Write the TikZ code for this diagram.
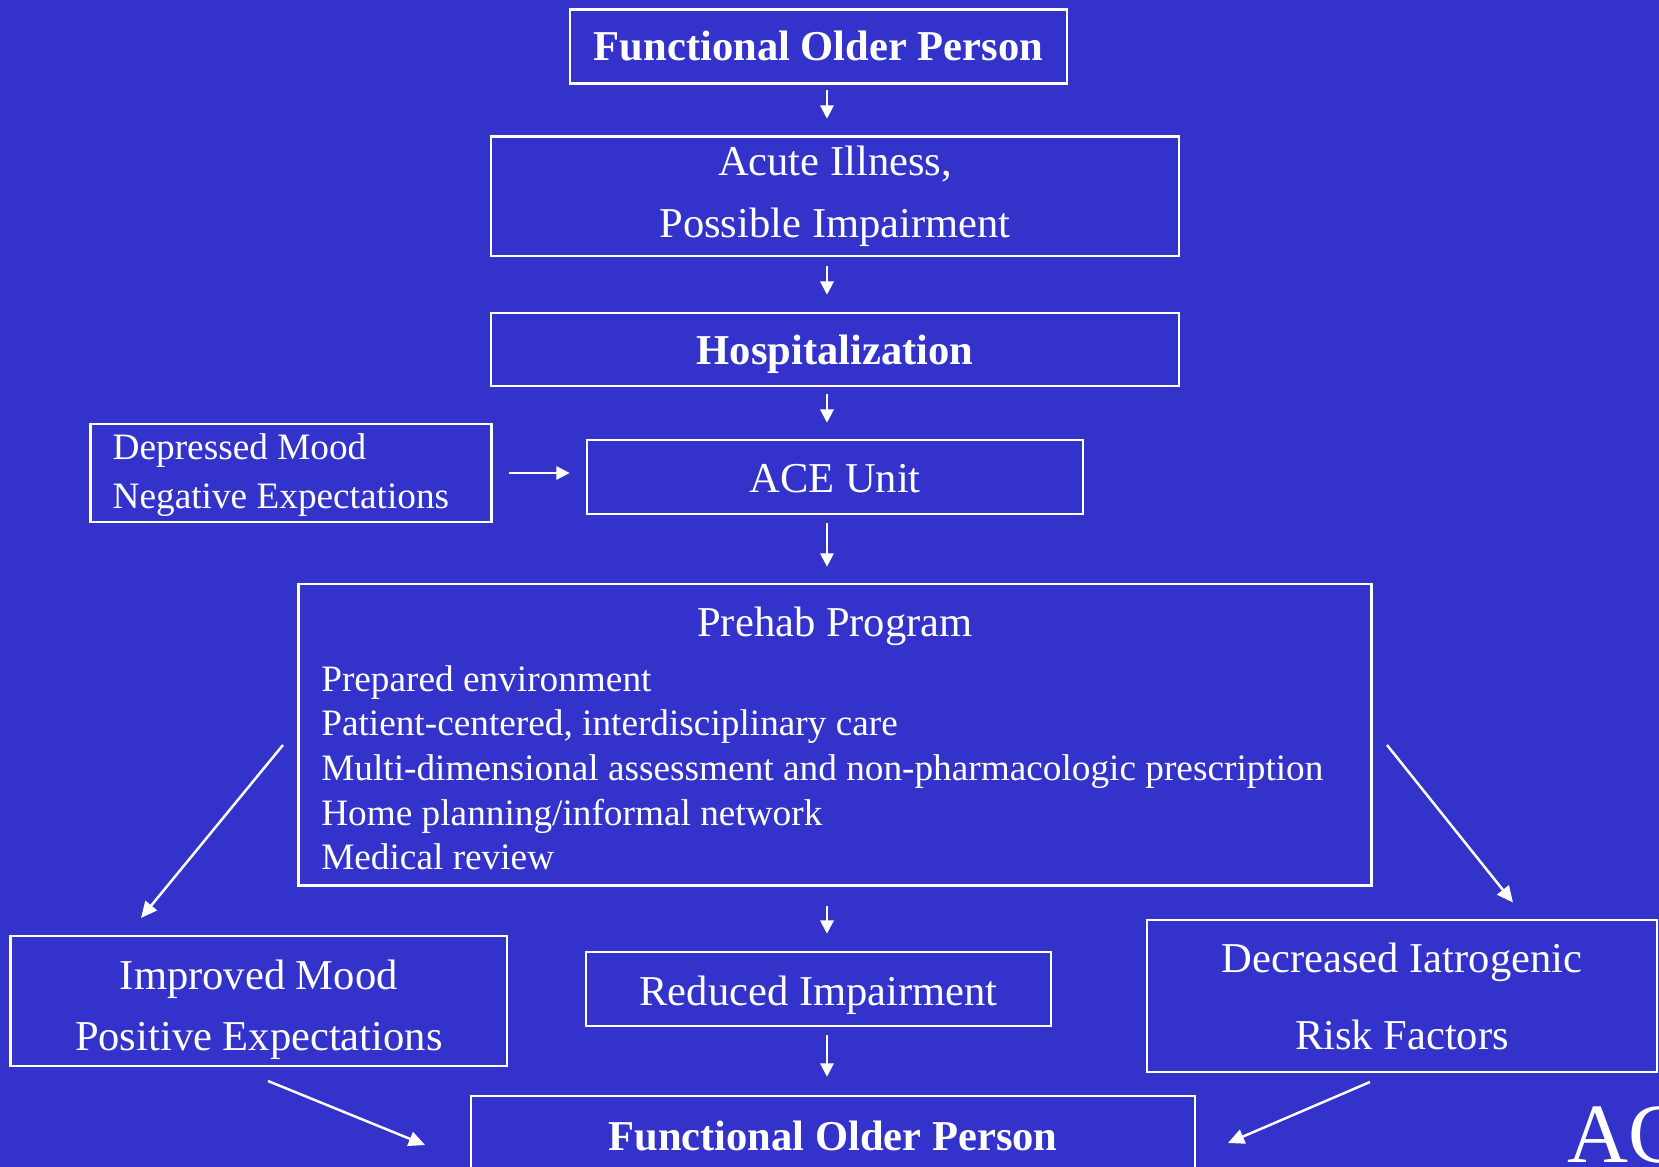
\documentclass[tikz,border=0pt]{standalone}
\usepackage{fontspec}
\setmainfont{Liberation Serif}
\usetikzlibrary{arrows.meta,positioning}
\definecolor{bg}{RGB}{51,51,204}
\tikzset{bx/.style={draw=white,line width=.7pt,text=white,inner sep=0pt,align=center,
   font=\fontsize{12.1}{17.4}\selectfont},
 hdr/.style={bx,font=\fontsize{12.1}{14.5}\selectfont\bfseries},
 tx/.style={text=white,inner sep=0pt,align=left,font=\fontsize{10.6}{12.7}\selectfont},
 arr/.style={-{Triangle[length=3.8pt,width=3.8pt]},draw=white,line width=.6pt},
 diag/.style={arr,-{Triangle[length=4.6pt,width=4.2pt]},line width=.7pt}}
\begin{document}
\begin{tikzpicture}[x=.01cm,y=-.01cm]
\useasboundingbox (0,0) rectangle (1659,1167);
\clip (0,0) rectangle (1659,1167);
\fill[bg] (0,0) rectangle (1659,1167);
\coordinate (spine) at (827,0);
% main column
\node[hdr,minimum width=4.97cm,minimum height=.74cm] (fop1) at (818.5,46.5) {Functional Older Person};
\node[bx,minimum width=6.88cm,minimum height=1.195cm] (ill) at (835,196.25) {Acute Illness,\\Possible Impairment};
\node[hdr,minimum width=6.88cm,minimum height=.73cm,text depth=0pt] (hosp) at (835,349.5) {Hospitalization};
\node[bx,minimum width=4.96cm,minimum height=.74cm,text height=.32cm] (ace) at (835,477) {ACE Unit};
\node[bx,minimum width=4.01cm,minimum height=.98cm] (dep) at (291,473) {};
\node[tx,anchor=west,font=\fontsize{10.6}{13.85}\selectfont] (deptxt) at (112,475) {Depressed Mood\\Negative Expectations};
\node[bx,minimum width=10.72cm,minimum height=3.015cm] (prehab) at (835,734.75) {};
\node[bx,draw=none] (prehabttl) at (835,626) {Prehab Program};
\node[tx,anchor=north west] (prehablst) at (320.6,664.5) {Prepared environment\\Patient-centered, interdisciplinary care\\
 Multi-dimensional assessment and non-pharmacologic prescription\\Home planning/informal network\\Medical review};
% outcomes
\node[bx,minimum width=4.964cm,minimum height=1.3cm] (impr) at (258.8,1001) {};
\node[bx,draw=none] (imprtxt) at (258.8,1009.5) {Improved Mood\\Positive Expectations};
\node[bx,minimum width=4.65cm,minimum height=.74cm,text depth=0pt,text height=.33cm] (red) at (818.5,989) {Reduced Impairment};
\node[bx,minimum width=5.1cm,minimum height=1.515cm] (decr) at (1402,996) {Decreased Iatrogenic\\[4.5pt]Risk Factors};
\node[hdr,minimum width=7.24cm,minimum height=.8cm] (fop2) at (833,1136) {Functional Older Person};
\node[tx,anchor=base west,font=\fontsize{24}{28}\selectfont] (acx) at (1567,1163) {AC};
% arrows
\draw[arr,shorten <=.05cm,shorten >=.165cm] (fop1.south -| spine) -- (ill.north -| spine);
\draw[arr,shorten <=.085cm,shorten >=.17cm] (ill.south -| spine) -- (hosp.north -| spine);
\draw[arr,shorten <=.065cm,shorten >=.16cm] (hosp.south -| spine) -- (ace.north -| spine);
\draw[arr,shorten <=.076cm,shorten >=.16cm] (ace.south -| spine) -- (prehab.north -| spine);
\draw[arr,shorten <=.19cm,shorten >=.17cm] (prehab.south -| spine) -- (red.north -| spine);
\draw[arr,shorten <=.08cm,shorten >=.18cm] (red.south -| spine) -- (fop2.north -| spine);
\draw[arr,shorten <=.16cm,shorten >=.16cm] (dep.east) -- (ace.west |- dep.east);
\coordinate (dl1) at (283,745); \coordinate (dl2) at (141,918);
\coordinate (dr1) at (1387,745); \coordinate (dr2) at (1513,902.5);
\coordinate (bl1) at (268,1081); \coordinate (bl2) at (425,1145);
\coordinate (br1) at (1370,1082); \coordinate (br2) at (1228,1143);
\draw[diag] (dl1) -- (dl2);
\draw[diag] (dr1) -- (dr2);
\draw[diag] (bl1) -- (bl2);
\draw[diag] (br1) -- (br2);
\end{tikzpicture}
\end{document}
